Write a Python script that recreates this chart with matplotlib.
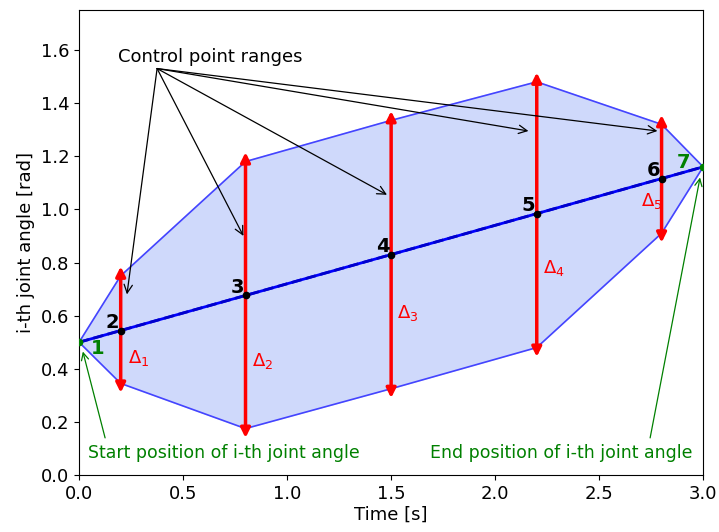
import matplotlib
matplotlib.use("Agg")
import matplotlib.pyplot as plt
import numpy as np

# control point times and bounds
t_ctrl = [0.2, 0.8, 1.5, 2.2, 2.8]
upper = [0.75, 1.18, 1.335, 1.48, 1.32]
lower = [0.345, 0.175, 0.325, 0.48, 0.91]
t_start, q_start = 0.0, 0.5
t_end, q_end = 3.0, 1.16

# label positions for deltas
delta_x = [0.235, 0.83, 1.53, 2.23, 2.70]
delta_y = [0.44, 0.43, 0.61, 0.78, 1.03]

# arrow targets for "Control point ranges"
ann_origin = (0.375, 1.53)
ann_targets = [(0.23, 0.68), (0.79, 0.90), (1.48, 1.055), (2.16, 1.295), (2.78, 1.295)]

fig = plt.figure(figsize=(7.19, 5.32), dpi=100)
ax = fig.add_axes([0.11, 0.107, 0.868, 0.874])

# polygon of allowed region
poly_t = [t_start] + t_ctrl + [t_end] + t_ctrl[::-1] + [t_start]
poly_q = [q_start] + upper + [q_end] + lower[::-1] + [q_start]
ax.fill(poly_t, poly_q, color="#cfd9fb", zorder=1)
ax.plot(poly_t, poly_q, color="#4444ff", lw=1.2, zorder=2)

# straight line between start and end
t_all = [t_start] + t_ctrl + [t_end]
q_line = np.interp(t_all, [t_start, t_end], [q_start, q_end])
ax.plot(t_all, q_line, color="blue", lw=2, zorder=3)
ax.plot(t_all, q_line, color="#0000cc", lw=2, ls="--", zorder=3)

# red range arrows
for t, lo, hi in zip(t_ctrl, lower, upper):
    ax.annotate("", xy=(t, hi + 0.035), xytext=(t, lo - 0.035),
                arrowprops=dict(arrowstyle="<|-|>", color="red", lw=2.5,
                                mutation_scale=14, shrinkA=0, shrinkB=0),
                zorder=4)

# control points
ax.plot(t_ctrl, q_line[1:-1], "o", color="black", ms=4.5, zorder=5)
ax.plot([t_start, t_end], [q_start, q_end], "o", color="green", ms=4.5, zorder=5)

# numbers
for i, (t, q) in enumerate(zip(t_ctrl, q_line[1:-1])):
    ax.text(t - 0.04, q + 0.03, str(i + 2), fontsize=14, fontweight="bold",
            ha="center", va="center", zorder=6)
ax.text(t_start + 0.09, q_start - 0.023, "1", fontsize=14, fontweight="bold",
        color="green", ha="center", va="center")
ax.text(t_end - 0.095, q_end + 0.015, "7", fontsize=14, fontweight="bold",
        color="green", ha="center", va="center")

# delta labels
for i, (x, y) in enumerate(zip(delta_x, delta_y)):
    ax.text(x, y, r"$\Delta_{%d}$" % (i + 1), color="red", fontsize=13,
            ha="left", va="center", zorder=6)

# control point ranges annotation
ax.text(0.63, 1.575, "Control point ranges", fontsize=13, ha="center", va="center")
for tx, ty in ann_targets:
    ax.annotate("", xy=(tx, ty), xytext=ann_origin,
                arrowprops=dict(arrowstyle="->", color="black", lw=0.9,
                                mutation_scale=15, shrinkA=0, shrinkB=0),
                zorder=6)

# start / end annotations
ax.text(0.043, 0.083, "Start position of i-th joint angle", color="green",
        fontsize=12.5, ha="left", va="center")
ax.annotate("", xy=(0.018, 0.465), xytext=(0.125, 0.14),
            arrowprops=dict(arrowstyle="->", color="green", lw=0.9,
                            mutation_scale=13, shrinkA=0, shrinkB=0))
ax.text(2.95, 0.083, "End position of i-th joint angle", color="green",
        fontsize=12.5, ha="right", va="center")
ax.annotate("", xy=(2.985, 1.12), xytext=(2.745, 0.14),
            arrowprops=dict(arrowstyle="->", color="green", lw=0.9,
                            mutation_scale=13, shrinkA=0, shrinkB=0))

ax.set_xlim(0, 3)
ax.set_ylim(0, 1.75)
ax.set_xticks(np.arange(0, 3.01, 0.5))
ax.set_yticks(np.arange(0, 1.61, 0.2))
ax.tick_params(labelsize=13)
ax.set_xlabel("Time [s]", fontsize=13, labelpad=2)
ax.set_ylabel("i-th joint angle [rad]", fontsize=13)

fig.savefig("out.png", dpi=100)
